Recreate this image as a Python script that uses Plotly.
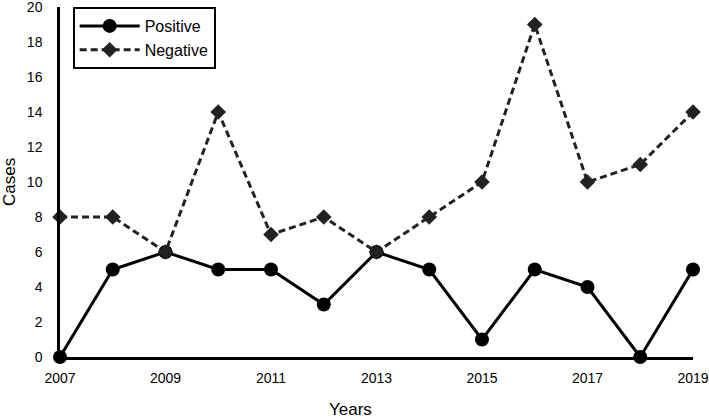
import plotly.graph_objects as go

years = [2007, 2008, 2009, 2010, 2011, 2012, 2013, 2014, 2015, 2016, 2017, 2018, 2019]
positive = [0, 5, 6, 5, 5, 3, 6, 5, 1, 5, 4, 0, 5]
negative = [8, 8, 6, 14, 7, 8, 6, 8, 10, 19, 10, 11, 14]

FONT = "Liberation Sans, Arial, sans-serif"

fig = go.Figure()
fig.add_trace(go.Scatter(
    x=years, y=positive, name="Positive", mode="lines+markers",
    line=dict(color="black", width=3),
    marker=dict(symbol="circle", size=14, color="black"),
    cliponaxis=False,
))
fig.add_trace(go.Scatter(
    x=years, y=negative, name="Negative", mode="lines+markers",
    line=dict(color="#222222", width=3, dash="7px,4px"),
    marker=dict(symbol="diamond", size=12, color="#222222"),
    cliponaxis=False,
))

fig.update_layout(
    width=709, height=420,
    margin=dict(l=60, r=16, t=7, b=63),
    paper_bgcolor="white", plot_bgcolor="white",
    font=dict(family=FONT, size=14, color="black"),
    showlegend=True,
    legend=dict(
        x=0.02, y=1.0, xanchor="left", yanchor="top",
        bordercolor="black", borderwidth=2,
        bgcolor="white",
        font=dict(size=16, family=FONT, color="black"),
        itemwidth=60,
    ),
    annotations=[
        dict(text="Years", xref="paper", yref="paper", x=(350 - 60) / 633, y=-52 / 350,
             xanchor="center", yanchor="middle", showarrow=False,
             font=dict(size=17, family=FONT, color="black")),
        dict(text="Cases", xref="paper", yref="paper", x=-51 / 633, y=0.5,
             xanchor="center", yanchor="middle", showarrow=False, textangle=-90,
             font=dict(size=17, family=FONT, color="black")),
    ],
)
fig.update_xaxes(
    range=[2007, 2019], tickmode="linear", tick0=2007, dtick=2,
    showline=True, linecolor="black", linewidth=2.5,
    showgrid=False, zeroline=False, ticks="",
    ticklabelstandoff=6, ticklabeloverflow="allow", automargin=False,
)
fig.update_yaxes(
    range=[0, 20], tickmode="linear", tick0=0, dtick=2,
    showline=True, linecolor="black", linewidth=2.5,
    showgrid=False, zeroline=False, ticks="",
    ticklabelstandoff=12, ticklabeloverflow="allow", automargin=False,
)

fig.write_html("out.html", config={"displayModeBar": False},
               post_script="document.body.style.margin='0';")
